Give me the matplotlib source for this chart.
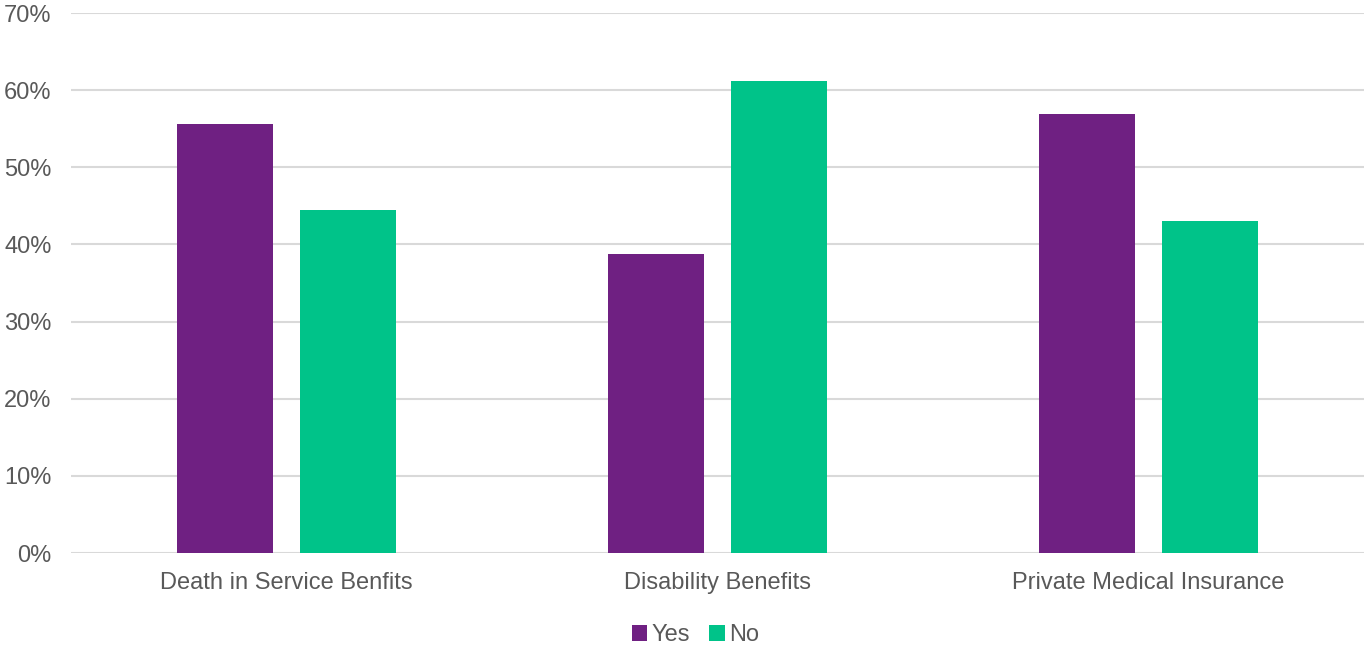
import matplotlib.pyplot as plt
import numpy as np

categories = ['Death in Service Benfits', 'Disability Benefits', 'Private Medical Insurance']
yes_vals = [55.6, 38.8, 56.9]
no_vals = [44.5, 61.2, 43.0]

purple = '#6F2082'
green = '#00C389'
txt = '#595959'

plt.rcParams['font.family'] = ['Liberation Sans', 'DejaVu Sans']

fig = plt.figure(figsize=(13.64, 6.46), dpi=100)
ax = fig.add_axes([71 / 1364, 1 - 553 / 646, 1 - 71 / 1364, 540 / 646])

x = np.arange(len(categories))
w = 0.225
off = 0.1427
ax.bar(x - off, yes_vals, w, color=purple, label='Yes', zorder=3)
ax.bar(x + off, no_vals, w, color=green, label='No', zorder=3)

ax.set_xlim(-0.5, 2.5)
ax.set_ylim(0, 70)
ax.set_yticks(range(0, 71, 10))
ax.set_yticklabels([str(v) + '%' for v in range(0, 71, 10)])
ax.set_xticks(x)
ax.set_xticklabels(categories)
ax.yaxis.grid(True, color='#D9D9D9', linewidth=1.5, zorder=0)
ax.set_axisbelow(True)
for s in ax.spines.values():
    s.set_visible(False)
ax.tick_params(axis='both', length=0, labelsize=17, colors=txt)
ax.tick_params(axis='x', pad=14)
ax.tick_params(axis='y', pad=14)

leg = fig.legend(loc='center', bbox_to_anchor=(0.51, 0.017), ncol=2, frameon=False,
                 fontsize=17, handlelength=0.65, handleheight=0.65, handletextpad=0.2,
                 columnspacing=0.8)
for t in leg.get_texts():
    t.set_color(txt)

fig.savefig('out.png', dpi=100)
